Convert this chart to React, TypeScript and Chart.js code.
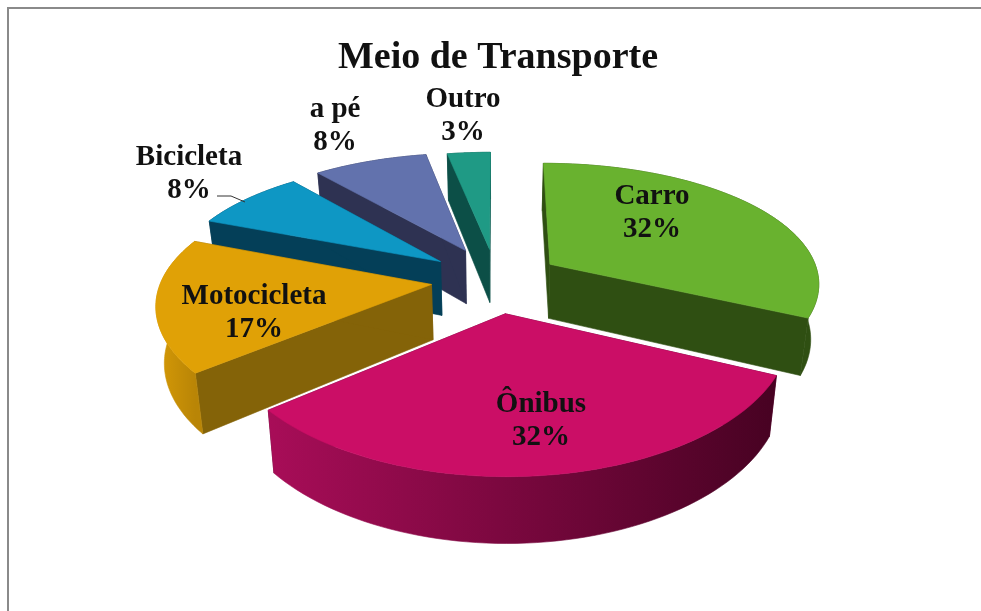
import React, { useEffect, useRef } from "react";
import { Chart, registerables } from "chart.js";

Chart.register(...registerables);

const categories = ["Carro", "Ônibus", "Motocicleta", "Bicicleta", "a pé", "Outro"];
const shares = [32, 32, 17, 8, 8, 3];
const explode = [65, 72, 65, 70, 74, 70];
const topColors = ["#69b22f", "#cb0e66", "#e0a106", "#0e97c4", "#6272ad", "#1f9a85"];
const wallColors = ["#2f4f12", "#5a0530", "#846308", "#043f58", "#2e3252", "#0c4f47"];
const rimLeft = ["#2f4f12", "#a80d58", "#d69a06", "#043f58", "#2e3252", "#0c4f47"];
const rimRight = ["#2f4f12", "#470222", "#b98506", "#043f58", "#2e3252", "#0c4f47"];
const labelAnchors = [
  [652, 197], [541, 405], [254, 297], [189, 158], [335, 110], [463, 100],
];
const drawOrder = [5, 4, 3, 2, 0, 1];

const CANVAS_LEFT = 15;
const K = 0.14, KY = 0.1675, SQUASH = 122.7, DEPTH = 55, SHRINK = 0.025, SHIFT_X = -2;

const depthPie = {
  id: "depthPie",
  beforeDatasetsDraw(chart: any) {
    const ctx = chart.ctx;
    const arcs = chart.getDatasetMeta(0).data;
    const proj = (arc: any, u: number, v: number, z: number) => {
      const p = 1 / (1 + K * v);
      return [
        arc.x + SHIFT_X + arc.outerRadius * u * p * (1 - z * SHRINK),
        arc.y - (SQUASH * v) / (1 + KY * v) + DEPTH * z * p,
      ];
    };
    const fillPoly = (pts: number[][], fill: any) => {
      ctx.beginPath();
      pts.forEach((q, i) => (i ? ctx.lineTo(q[0], q[1]) : ctx.moveTo(q[0], q[1])));
      ctx.closePath();
      ctx.fillStyle = fill;
      ctx.strokeStyle = fill;
      ctx.lineWidth = 0.6;
      ctx.fill();
      ctx.stroke();
    };
    drawOrder.forEach((i) => {
      const arc = arcs[i];
      const a0 = arc.startAngle, a1 = arc.endAngle;
      const mid = (a0 + a1) / 2;
      const off = arc.options.offset / arc.outerRadius;
      const ou = off * Math.cos(mid), ov = -off * Math.sin(mid);
      const top: number[][] = [], bot: number[][] = [];
      const n = 64;
      for (let s = 0; s <= n; s++) {
        const a = a0 + ((a1 - a0) * s) / n;
        const u = ou + Math.cos(a), v = ov - Math.sin(a);
        top.push(proj(arc, u, v, 0));
        bot.push(proj(arc, u, v, 1));
      }
      const apexTop = proj(arc, ou, ov, 0), apexBot = proj(arc, ou, ov, 1);
      fillPoly([apexTop, top[0], bot[0], apexBot], wallColors[i]);
      fillPoly([apexTop, top[n], bot[n], apexBot], wallColors[i]);
      const xs = top.map((q) => q[0]);
      const g = ctx.createLinearGradient(Math.min(...xs), 0, Math.max(...xs), 0);
      g.addColorStop(0, rimLeft[i]);
      g.addColorStop(1, rimRight[i]);
      fillPoly([...top, ...bot.slice().reverse()], g);
      fillPoly([apexTop, ...top], topColors[i]);
    });
    return false;
  },
  afterDraw(chart: any) {
    const ctx = chart.ctx;
    ctx.save();
    ctx.translate(-CANVAS_LEFT, 0);
    ctx.fillStyle = "#111";
    ctx.font = 'bold 29px "Liberation Serif"';
    ctx.textAlign = "center";
    ctx.textBaseline = "middle";
    categories.forEach((name, i) => {
      const [x, y] = labelAnchors[i];
      ctx.fillText(name, x, y);
      ctx.fillText(`${shares[i]}%`, x, y + 33);
    });
    ctx.strokeStyle = "#333";
    ctx.lineWidth = 1;
    ctx.beginPath();
    ctx.moveTo(217, 196);
    ctx.lineTo(231, 196);
    ctx.lineTo(245, 202);
    ctx.stroke();
    ctx.restore();
  },
};

export default function App() {
  const ref = useRef<HTMLCanvasElement>(null);
  useEffect(() => {
    const chart = new Chart(ref.current!, {
      type: "pie",
      data: {
        labels: categories,
        datasets: [{ data: shares, backgroundColor: topColors, offset: explode, borderWidth: 0 }],
      },
      options: {
        animation: false,
        responsive: false,
        radius: 270,
        layout: { padding: { bottom: 132 } },
        plugins: {
          legend: { display: false },
          tooltip: { enabled: false },
          title: {
            display: true,
            text: "Meio de Transporte",
            color: "#111",
            font: { family: '"Liberation Serif"', size: 38, weight: "bold" },
            padding: { top: 35, bottom: 0 },
          },
        },
      },
      plugins: [depthPie],
    } as any);
    return () => chart.destroy();
  }, []);
  return (
    <div style={{ position: "fixed", inset: 0, background: "#fff", overflow: "hidden" }}>
      <div
        style={{
          position: "absolute", left: 7, top: 7, right: 0, bottom: 0,
          borderLeft: "2px solid #8a8a8a", borderTop: "2px solid #8a8a8a",
        }}
      />
      <canvas
        ref={ref}
        width={981 - CANVAS_LEFT}
        height={611}
        style={{ position: "absolute", left: CANVAS_LEFT, top: 0, display: "block" }}
      />
    </div>
  );
}
